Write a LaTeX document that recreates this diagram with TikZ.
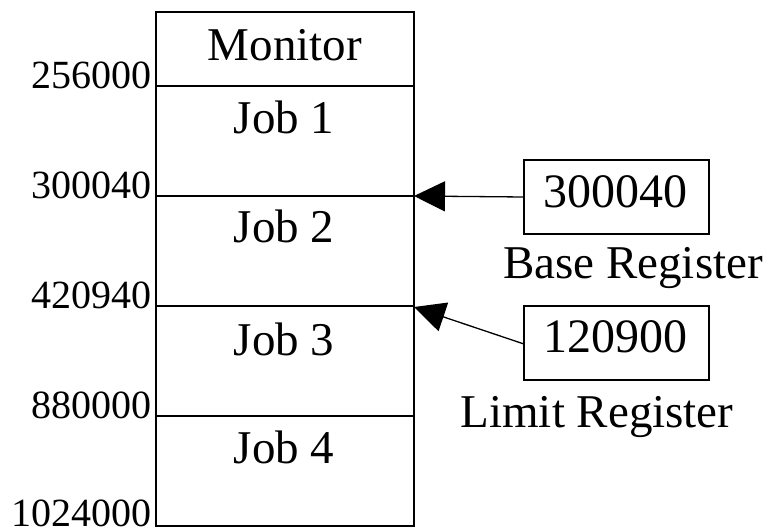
\documentclass[tikz,border=0pt]{standalone}
\usepackage{fontspec}
\setmainfont{Liberation Serif}
\usetikzlibrary{arrows.meta}
\begin{document}
\begin{tikzpicture}[x=1pt,y=-1pt,
  slot/.style={draw, line width=1.3pt, minimum width=258pt, inner sep=0pt, outer sep=0pt},
  slottext/.style={anchor=base, inner sep=0pt, font=\fontsize{47}{56}\selectfont},
  addr/.style={anchor=base east, inner sep=0pt, font=\fontsize{40}{48}\selectfont},
  regbox/.style={draw, line width=1.3pt, minimum width=185pt, minimum height=74pt, inner sep=0pt, outer sep=0pt},
  regtext/.style={anchor=base, inner sep=0pt, font=\fontsize{48}{56}\selectfont},
  reglabel/.style={anchor=base, inner sep=0pt, font=\fontsize{47}{56}\selectfont},
  ptr/.style={line width=1.3pt, -{Triangle[length=31pt,width=30pt]}}]
\useasboundingbox (0,0) rectangle (772,528);

% memory partitions
\node[slot, minimum height=74pt]  (mon)  at (285,49)  {};
\node[slot, minimum height=110pt] (job1) at (285,141) {};
\node[slot, minimum height=110pt] (job2) at (285,251) {};
\node[slot, minimum height=110pt] (job3) at (285,361) {};
\node[slot, minimum height=110pt] (job4) at (285,471) {};

\node[slottext] (tmon) at (285,60)  {Monitor};
\node[slottext] (t1)   at (284,133) {Job 1};
\node[slottext] (t2)   at (284,242) {Job 2};
\node[slottext] (t3)   at (284,355) {Job 3};
\node[slottext] (t4)   at (284,463) {Job 4};

% partition boundaries
\node[addr] (a1) at (152,88)  {256000};
\node[addr] (a2) at (152,198) {300040};
\node[addr] (a3) at (152,308) {420940};
\node[addr] (a4) at (152,418) {880000};
\node[addr] (a5) at (152,526) {1024000};

% relocation registers
\node[regbox] (base)  at (616.5,197) {};
\node[regtext] (bval) at (615,207) {300040};
\node[reglabel] (bname) at (633,278) {Base Register};

\node[regbox] (limit) at (616.5,343) {};
\node[regtext] (lval) at (615,352) {120900};
\node[reglabel] (lname) at (597,427) {Limit Register};

\coordinate (bpoint) at (414,196);
\coordinate (lpoint) at (414,307);
\draw[ptr] (base.west) -- (bpoint);
\draw[ptr] ([yshift=-1pt]limit.west) -- (lpoint);
\end{tikzpicture}
\end{document}
